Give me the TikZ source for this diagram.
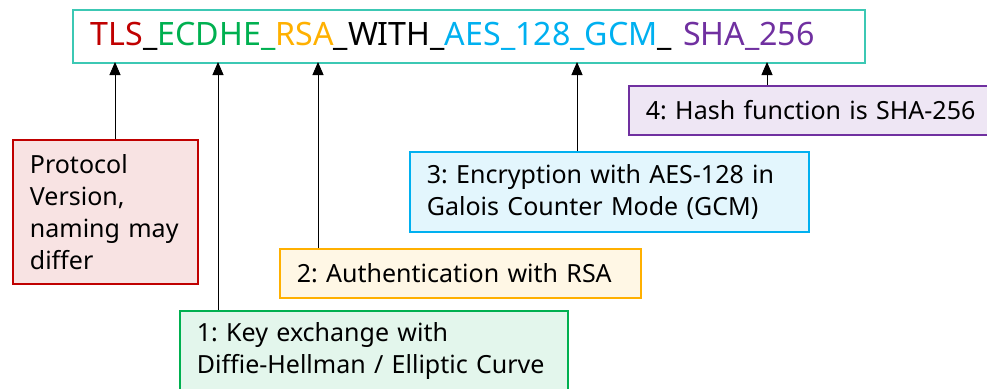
\documentclass[tikz,border=0pt]{standalone}
\usepackage{fontspec}
\setmainfont{Noto Sans}
\usetikzlibrary{arrows.meta}
\definecolor{tlsred}{HTML}{C00000}
\definecolor{tlsgreen}{HTML}{00B050}
\definecolor{tlsorange}{HTML}{FFB000}
\definecolor{tlsblue}{HTML}{00B0F0}
\definecolor{tlspurple}{HTML}{7030A0}
\definecolor{tlsteal}{HTML}{3CC8B4}
\tikzset{
  note/.style={draw, line width=1.8pt, anchor=north west, inner xsep=17pt, inner ysep=0pt,
    align=left, font=\fontsize{25}{32}\selectfont\frenchspacing},
  pointer/.style={-{Triangle[length=13pt,width=11pt]}, line width=0.9pt},
}
\begin{document}
\begin{tikzpicture}[x=1pt,y=-1pt]
\useasboundingbox (0,0) rectangle (987,388);
\clip (0,0) rectangle (987,388);
% cipher suite name
\node[draw=tlsteal, line width=1.8pt, anchor=north west, minimum width=792pt, minimum height=53pt,
  inner xsep=18pt, text width=756pt, align=left, font=\fontsize{32.2}{36}\selectfont] (suite) at (72,9)
  {\textcolor{tlsred}{TLS}\_\textcolor{tlsgreen}{ECDHE\_}\textcolor{tlsorange}{RSA}\_WITH\_\textcolor{tlsblue}{AES\_128\_GCM}\_ \textcolor{tlspurple}{SHA\_256}};
% explanations
\node[note, draw=tlsred, fill=tlsred!11, minimum width=185pt, minimum height=144pt, text width=151pt] (proto) at (12,139)
  {Protocol\\Version,\\naming may\\differ};
\node[note, draw=tlsorange, fill=tlsorange!10, minimum width=361pt, minimum height=49pt, text width=327pt] (auth) at (279,248)
  {2: Authentication with RSA};
\node[note, draw=tlsgreen, fill=tlsgreen!11, minimum width=388pt, minimum height=80pt, text width=354pt] (kex) at (179,310)
  {1: Key exchange with\\Diffie-Hellman / Elliptic Curve};
\node[note, draw=tlsblue, fill=tlsblue!11, minimum width=399pt, minimum height=80pt, text width=365pt] (enc) at (409,151)
  {3: Encryption with AES-128 in\\Galois Counter Mode (GCM)};
\node[note, draw=tlspurple, fill=tlspurple!12, minimum width=370pt, minimum height=49pt, text width=336pt] (hash) at (628,85)
  {4: Hash function is SHA-256};
% arrow targets on the lower edge of the name box
\coordinate (tTLS) at (115,62);
\coordinate (tKEX) at (218,62);
\coordinate (tRSA) at (318,62);
\coordinate (tGCM) at (577,62);
\coordinate (tSHA) at (767,62);
\draw[pointer] (tTLS |- proto.north) -- (tTLS);
\draw[pointer] (tKEX |- kex.north) -- (tKEX);
\draw[pointer] (tRSA |- auth.north) -- (tRSA);
\draw[pointer] (tGCM |- enc.north) -- (tGCM);
\draw[pointer] (tSHA |- hash.north) -- (tSHA);
\end{tikzpicture}
\end{document}
